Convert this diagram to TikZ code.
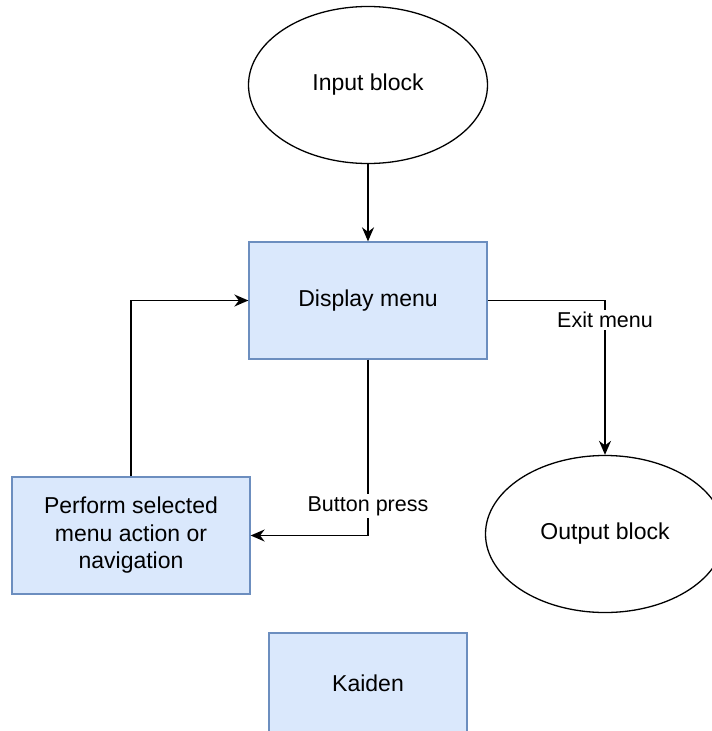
\documentclass[tikz,border=0pt]{standalone}
\usepackage{fontspec}
\setmainfont{Liberation Sans}
\usepackage{xcolor}
\usetikzlibrary{shapes.geometric,arrows.meta}
\definecolor{boxfill}{HTML}{DAE8FC}
\definecolor{boxline}{HTML}{6C8EBF}

\begin{document}
\begin{tikzpicture}[x=1pt,y=-1pt,every node/.style={font=\fontsize{23}{27.5}\selectfont}]
			\tikzstyle{block} = [draw=boxline, fill=boxfill, line width=1.3pt, minimum width=238pt, minimum height=117pt, align=center, inner sep=0pt]
			\tikzstyle{term} = [ellipse, draw, line width=1.3pt, minimum width=239pt, minimum height=157pt, inner sep=0pt]
			\tikzstyle{tag} = [fill=white, inner sep=2pt, font=\fontsize{21.5}{26}\selectfont]
			\tikzset{edge/.style = {line width=1.6pt, -{Stealth[length=14pt,width=12pt]}}}
			
			\useasboundingbox (0,0) rectangle (712,731);
			\clip (0,0) rectangle (712,731);
			
			\node[term](input) at (368,85) {Input block};
			\node[block](menu) at (368,300.5) {Display menu};
			\node[block](action) at (131,535.5) {Perform selected\\menu action or\\navigation};
			\node[term](output) at (605,534) {Output block};
			\node[block, minimum width=198pt, minimum height=100pt](kaiden) at (368,683) {Kaiden};
			
			\draw[edge](input) -- (menu);
			\draw[edge](menu.east) -| (output.north) node[tag, pos=0.563]{Exit menu};
			\draw[edge](menu.south) |- (action.east) node[tag, pos=0.416]{Button press};
			\draw[edge](action.north) |- (menu.west);
			
			\end{tikzpicture}
\end{document}
